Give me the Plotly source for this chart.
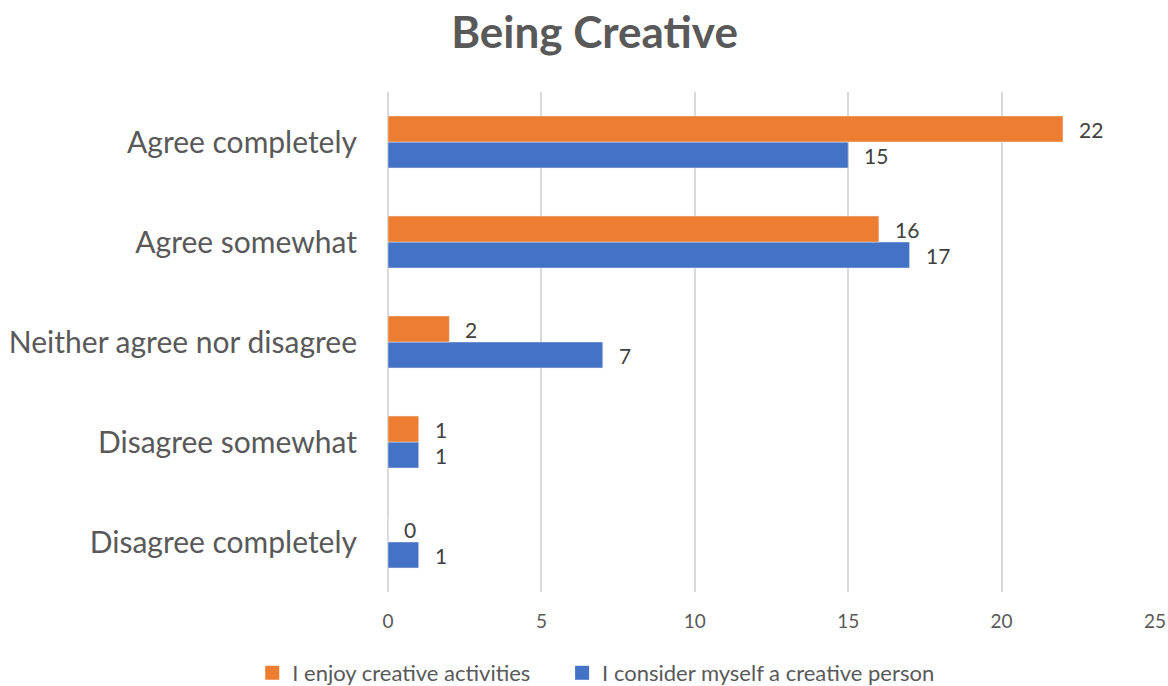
import plotly.graph_objects as go

# Survey responses, listed bottom-to-top as drawn on the category axis
categories = [
    "Disagree completely",
    "Disagree somewhat",
    "Neither agree nor disagree",
    "Agree somewhat",
    "Agree completely",
]
enjoy_activities = [0, 1, 2, 16, 22]
consider_creative = [1, 1, 7, 17, 15]

series_names = ["I enjoy creative activities", "I consider myself a creative person"]
tick_values = [0, 5, 10, 15, 20, 25]

ORANGE = "#ED7D31"
BLUE = "#4472C4"
TEXT = "#595959"
LABEL = "#404040"
FONT = "Lato, 'Open Sans', sans-serif"

fig = go.Figure()
fig.add_trace(go.Bar(
    y=categories, x=consider_creative, orientation="h",
    name=series_names[1], marker_color=BLUE, showlegend=False,
))
fig.add_trace(go.Bar(
    y=categories, x=enjoy_activities, orientation="h",
    name=series_names[0], marker_color=ORANGE, showlegend=False,
))

# Legend entries with square swatches, one legend box per series
for name, color, leg in ((series_names[0], ORANGE, "legend"),
                         (series_names[1], BLUE, "legend2")):
    fig.add_trace(go.Scatter(
        x=[None], y=[None], mode="markers", name=name, legend=leg,
        marker=dict(symbol="square", size=14, color=color),
    ))

# Value labels just past the end of each bar (orange sits above blue in each group)
annotations = []
for values, shift in ((consider_creative, -13), (enjoy_activities, 13)):
    for cat, v in zip(categories, values):
        annotations.append(dict(
            x=v, y=cat, xref="x", yref="y", text=str(v), showarrow=False,
            xanchor="left", yanchor="middle", xshift=14, yshift=shift,
            font=dict(size=21, color=LABEL, family=FONT),
        ))

legend_style = dict(orientation="h", xanchor="left", y=-0.162, yanchor="middle",
                    font=dict(size=22, color=TEXT), itemwidth=30,
                    bgcolor="rgba(0,0,0,0)")

fig.update_layout(
    width=1168, height=686,
    margin=dict(l=388, r=13, t=92, b=94, autoexpand=False),
    paper_bgcolor="white", plot_bgcolor="white",
    barmode="group", bargap=0.48, bargroupgap=0,
    annotations=annotations,
    title=dict(text="<b>Being Creative</b>", x=0.509, xanchor="center",
               y=0.953, yanchor="middle",
               font=dict(size=44, color=TEXT, family=FONT)),
    font=dict(family=FONT, color=TEXT),
    xaxis=dict(range=[0, 25], tickvals=tick_values, showgrid=True,
               gridcolor="#D9D9D9", gridwidth=1.5, zeroline=True,
               zerolinecolor="#D9D9D9", zerolinewidth=1.5,
               tickfont=dict(size=19, color=TEXT), ticks="",
               ticklabelstandoff=16, showline=False),
    yaxis=dict(tickfont=dict(size=30, color=TEXT), ticks="",
               ticklabelstandoff=30, showline=False, showgrid=False),
    legend=dict(x=-0.177, **legend_style),
    legend2=dict(x=0.227, **legend_style),
)

fig.write_html("out.html")
